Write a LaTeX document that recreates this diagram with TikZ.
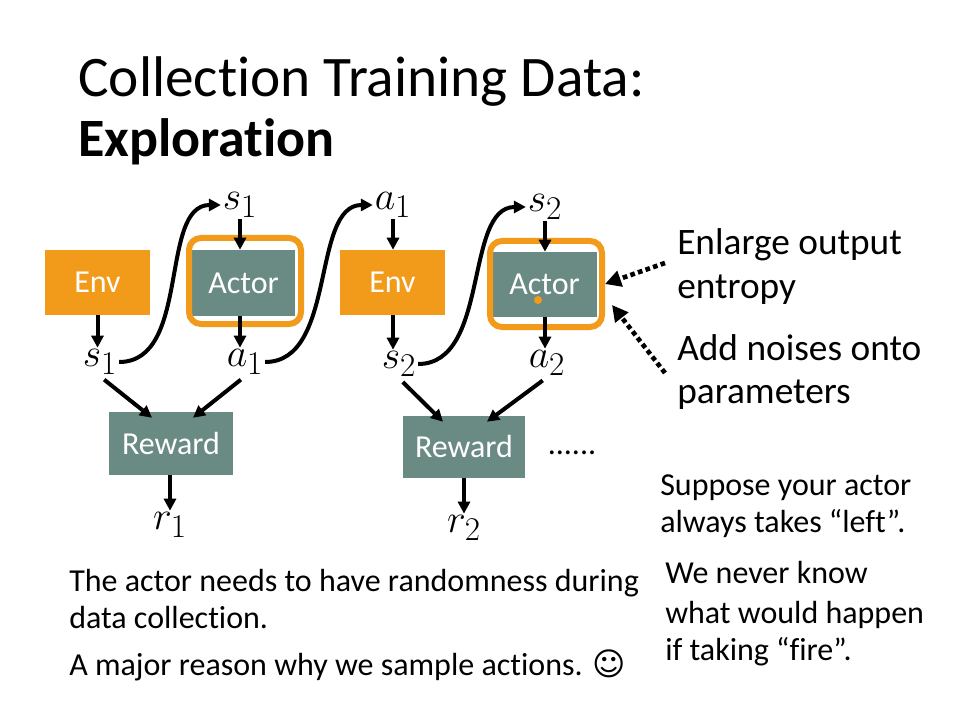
\documentclass[tikz,border=0pt]{standalone}
\usepackage{fontspec}
\setmainfont{Carlito}[Ligatures={NoCommon,NoContextual}]
\newfontfamily\dejavu{DejaVu Sans}
\usetikzlibrary{arrows.meta,calc}
\definecolor{boxorange}{RGB}{242,155,26}
\definecolor{boxteal}{RGB}{106,139,131}
\begin{document}
\begin{tikzpicture}[x=0.75pt,y=-0.75pt,
  boxlabel/.style={text=white,inner sep=0pt,font=\fontsize{24}{28}\selectfont},
  envbox/.style={boxlabel,fill=boxorange},
  actbox/.style={boxlabel,fill=boxteal},
  hilite/.style={draw=boxorange,line width=4.5pt,rounded corners=9pt,inner sep=0pt},
  mlabel/.style={inner sep=1pt,scale=1.2,font=\fontsize{24.88}{30}\selectfont},
  flow/.style={line width=3pt,-{Triangle[length=9pt,width=9pt]}},
  hint/.style={line width=3.5pt,dash pattern=on 3.5pt off 2.5pt,-{Triangle[length=12pt,width=12pt]}},
  titletext/.style={anchor=base west,inner sep=0pt,font=\fontsize{43}{50}\selectfont},
  sidetext/.style={anchor=base west,inner sep=0pt,font=\fontsize{28}{34}\selectfont},
  note/.style={anchor=base west,inner sep=0pt,font=\fontsize{24}{29}\selectfont},
]
\useasboundingbox (0,0) rectangle (960,720);
\fill[white] (0,0) rectangle (960,720);

% title
\node[titletext] (title1) at (78,97) {Collection Training Data:};
\node[titletext,font=\fontsize{40.5}{50}\selectfont\bfseries] (title2) at (78,157) {Exploration};

% environment, actor and reward boxes
\node[envbox,minimum width=78.75pt,minimum height=48.75pt] (env1) at (97.5,282.5) {Env};
\node[actbox,minimum width=77.25pt,minimum height=49.5pt] (act1) at (243.5,283) {Actor};
\node[hilite,minimum width=84pt,minimum height=64.5pt] (hl1) at (245,281) {};
\node[envbox,minimum width=78.75pt,minimum height=48.75pt] (env2) at (392.5,282.5) {Env};
\node[actbox,minimum width=78.75pt,minimum height=48.75pt] (act2) at (544.5,284.5) {Actor};
\node[hilite,minimum width=84pt,minimum height=64.5pt] (hl2) at (546,284) {};
\node[actbox,minimum width=93pt,minimum height=47.25pt] (rew1) at (171,443.5) {Reward};
\node[actbox,minimum width=91.5pt,minimum height=46.5pt] (rew2) at (464,447) {Reward};

% pointer mark
\node[circle,fill=boxorange,inner sep=0pt,minimum size=6pt] (dot) at (538,300) {};

% states, actions and rewards
\node[mlabel] (s1t) at (240,205) {$s_1$};
\node[mlabel] (s1b) at (100,362) {$s_1$};
\node[mlabel] (a1b) at (245,362) {$a_1$};
\node[mlabel] (a1t) at (393,205) {$a_1$};
\node[mlabel] (s2b) at (399,364) {$s_2$};
\node[mlabel] (s2t) at (545,207) {$s_2$};
\node[mlabel] (a2b) at (547,363) {$a_2$};
\node[mlabel] (r1) at (170,525) {$r_1$};
\node[mlabel] (r2) at (464,528) {$r_2$};
\node[inner sep=0pt,font=\fontsize{24}{28}\selectfont] (more) at (572,453) {......};

% vertical flow
\draw[flow] (env1.south) -- (env1.south |- s1b.north);
\draw[flow] (s1t.south) -- (act1.north -| s1t.south);
\draw[flow] (act1.south -| s1t.south) -- (a1b.north -| s1t.south);
\draw[flow] (a1t.south) -- (env2.north -| a1t.south);
\draw[flow] (env2.south -| a1t.south) -- (s2b.north -| a1t.south);
\draw[flow] (s2t.south) -- (act2.north -| s2t.south);
\draw[flow] (act2.south -| s2t.south) -- (a2b.north -| s2t.south);

% hand-over curves
\draw[flow] (s1b.east) .. controls +(72,0) and +(-62,0) .. (s1t.west);
\draw[flow] (a1b.east) .. controls +(72,0) and +(-62,0) .. (a1t.west);
\draw[flow] (s2b.east) .. controls +(72,0) and +(-62,0) .. (s2t.west);

% into the reward boxes
\draw[flow,shorten <=4pt] (s1b.south) -- ($(rew1.north)+(-19,6)$);
\draw[flow,shorten <=4pt] (a1b.south) -- ($(rew1.north)+(22,6)$);
\draw[flow,shorten <=4pt] (s2b.south) -- ($(rew2.north)+(-21,6)$);
\draw[flow,shorten <=4pt] (a2b.south) -- ($(rew2.north)+(23,6)$);
\draw[flow] (rew1.south -| r1) -- (r1.north);
\draw[flow] (rew2.south -| r2) -- (r2.north);

% exploration hints
\node[sidetext] (enl1) at (677,255) {Enlarge output};
\node[sidetext] (enl2) at (677,298) {entropy};
\node[sidetext] (add1) at (677,360) {Add noises onto};
\node[sidetext] (add2) at (677,403) {parameters};
\coordinate (h1) at (665,263);
\coordinate (h2) at (665,373);
\draw[hint] (h1) -- (hl2.east);
\draw[hint] (h2) -- ($(hl2.east)+(7,21)$);

% notes
\node[note] (n1) at (660,495) {Suppose your actor};
\node[note] (n2) at (660,532) {always takes “left”.};
\node[note] (n3) at (665,583) {We never know};
\node[note] (n4) at (665,623) {what would happen};
\node[note] (n5) at (665,660) {if taking “fire”.};
\node[note] (b1) at (69,591) {The actor needs to have randomness during};
\node[note] (b2) at (69,628) {data collection.};
\node[note] (b3) at (69,675) {A major reason why we sample actions. {\dejavu ☺}};
\end{tikzpicture}
\end{document}
